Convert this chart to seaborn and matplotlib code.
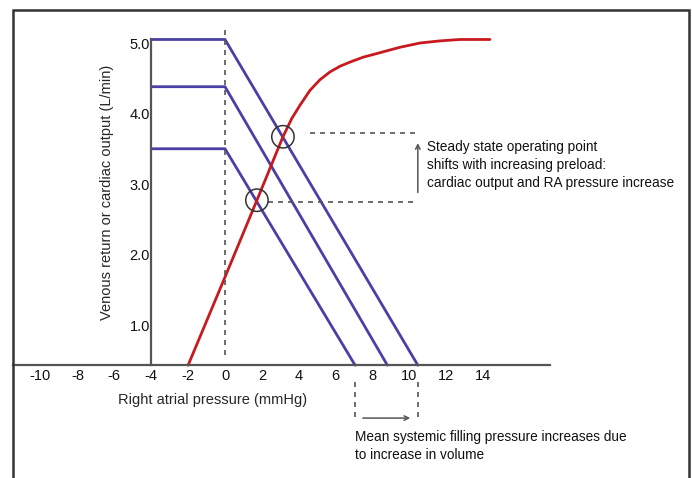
import numpy as np
import pandas as pd
import matplotlib
matplotlib.use("Agg")
import matplotlib.pyplot as plt
from matplotlib.patches import Rectangle
import seaborn as sns

# Venous return curves (three blood volumes)
vr_plateau_start = -4.0
vr_plateau_end = 0.0
vr_levels = [5.05, 4.38, 3.50]          # L/min on the plateau
vr_msfp = [10.45, 8.80, 7.05]           # x where each curve meets the axis
axis_y0 = 0.43                          # height at which the x axis is drawn

# Cardiac function (Frank-Starling) curve
co_pressure = [-2.0, 0.0, 1.73, 3.14, 3.62, 4.07, 4.61, 5.15, 5.69, 6.23, 6.78,
               7.5, 8.22, 9.49, 10.57, 11.65, 12.74, 14.36]
co_output = [0.43, 1.68, 2.77, 3.67, 3.93, 4.12, 4.33, 4.48, 4.59, 4.67, 4.73,
             4.80, 4.85, 4.94, 5.00, 5.03, 5.05, 5.05]

# Operating points (intersections)
op_pressure = [1.73, 3.14]
op_output = [2.77, 3.67]

x_ticks = [-10, -8, -6, -4, -2, 0, 2, 4, 6, 8, 10, 12, 14]
y_ticks = [1.0, 2.0, 3.0, 4.0, 5.0]

sns.set_theme(style="white")
plt.rcParams["font.family"] = ["Liberation Sans", "DejaVu Sans"]

blue = "#4a3fa6"
red = "#c81a1e"
grey = "#555555"

rows = []
for i, (lvl, ms) in enumerate(zip(vr_levels, vr_msfp)):
    for x, y in [(vr_plateau_start, lvl), (vr_plateau_end, lvl), (ms, axis_y0)]:
        rows.append({"curve": i, "pressure": x, "flow": y})
df_vr = pd.DataFrame(rows)
df_co = pd.DataFrame({"pressure": co_pressure, "flow": co_output})

fig = plt.figure(figsize=(6.92, 4.78), dpi=100)
ax = fig.add_axes([0, 0, 1, 1])
ax.set_xlim(-12.195, 25.31)
ax.set_ylim(-1.17, 5.61)

sns.lineplot(data=df_vr, x="pressure", y="flow", units="curve", estimator=None,
             sort=False, color=blue, linewidth=2.0, ax=ax, legend=False)
sns.lineplot(data=df_co, x="pressure", y="flow", sort=False, color=red,
             linewidth=2.0, ax=ax, legend=False, solid_joinstyle="round")

# operating point circles
ax.scatter(op_pressure, op_output, s=260, facecolors="none", edgecolors="#333333",
           linewidths=1.1, zorder=5)

# vertical dashed line at 0
ax.plot([0, 0], [0.57, 5.25], color=grey, ls=(0, (3, 3)), lw=1.2)
# horizontal dashed guides to operating points
ax.plot([4.6, 10.45], [3.72, 3.72], color=grey, ls=(0, (3, 3)), lw=1.2)
ax.plot([2.33, 10.45], [2.74, 2.74], color=grey, ls=(0, (3, 3)), lw=1.2)
ax.annotate("", xy=(10.45, 3.62), xytext=(10.45, 2.84),
            arrowprops=dict(arrowstyle="->", color=grey, lw=1.1, mutation_scale=8))
ax.text(10.95, 3.27, "Steady state operating point\nshifts with increasing preload:\ncardiac output and RA pressure increase",
        fontsize=9.8, va="center", ha="left", color="#111111", linespacing=1.4)

# mean systemic filling pressure shift
ax.plot([vr_msfp[2], vr_msfp[2]], [0.19, -0.38], color=grey, ls=(0, (3, 3)), lw=1.2)
ax.plot([vr_msfp[0], vr_msfp[0]], [0.19, -0.38], color=grey, ls=(0, (3, 3)), lw=1.2)
ax.annotate("", xy=(10.19, -0.32), xytext=(7.32, -0.32),
            arrowprops=dict(arrowstyle="->", color=grey, lw=1.1, mutation_scale=8))
ax.text(7.05, -0.72, "Mean systemic filling pressure increases due\nto increase in volume",
        fontsize=9.8, va="center", ha="left", color="#111111", linespacing=1.4)

# axes styling
for s in ["top", "right"]:
    ax.spines[s].set_visible(False)
ax.spines["bottom"].set_position(("data", axis_y0))
ax.spines["left"].set_position(("data", -4))
ax.spines["bottom"].set_bounds(-11.5, 17.6)
ax.spines["left"].set_bounds(axis_y0, 5.05)
for s in ["bottom", "left"]:
    ax.spines[s].set_color(grey)
    ax.spines[s].set_linewidth(1.6)
ax.set_xticks(x_ticks)
ax.set_xticklabels([str(t) for t in x_ticks])
ax.set_yticks(y_ticks)
ax.set_yticklabels([f"{t:.1f}" for t in y_ticks])
ax.tick_params(axis="both", length=0, labelsize=10.5, colors="#111111")
ax.tick_params(axis="x", pad=3)
ax.tick_params(axis="y", pad=1)
ax.set_xlabel("")
ax.set_ylabel("")
ax.patch.set_alpha(0)

ax.text(-0.7, -0.06, "Right atrial pressure (mmHg)", fontsize=10.5, ha="center", va="center")
fig.text(107 / 692, 1 - 192 / 478, "Venous return or cardiac output (L/min)",
         fontsize=10.5, rotation=90, ha="center", va="center")

# outer frame
fig.patches.append(Rectangle((13 / 692, -0.02), (689 - 13) / 692, (478 - 10) / 478 + 0.02,
                             transform=fig.transFigure, fill=False, edgecolor="#333333",
                             linewidth=1.8))

fig.savefig("out.png", dpi=100)
